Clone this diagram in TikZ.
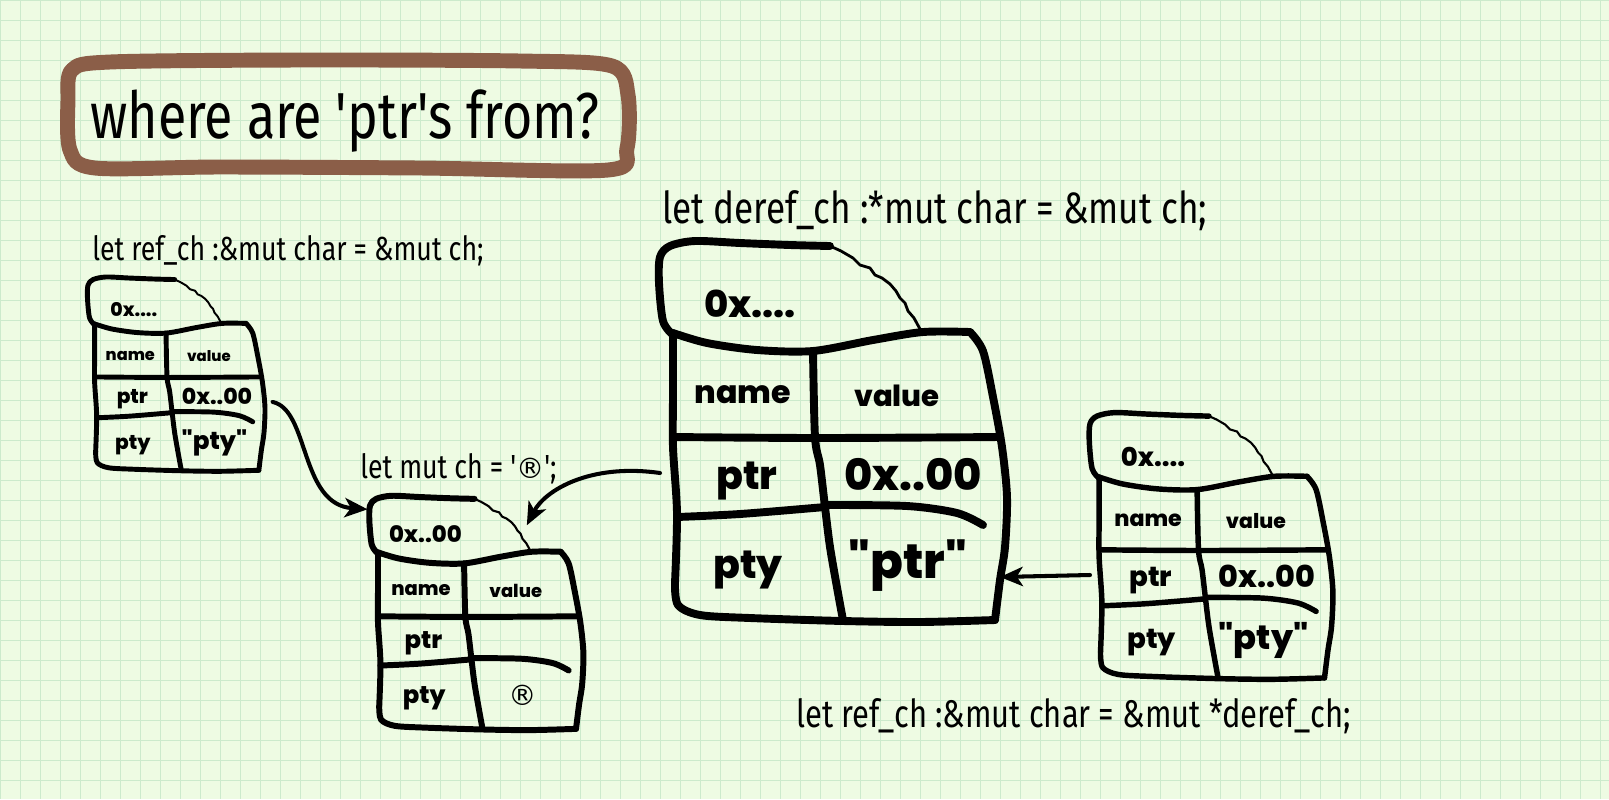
\documentclass[tikz,border=0pt]{standalone}
\usepackage{fontspec}
\setmainfont{Fira Sans}[FakeStretch=0.8, Ligatures=TeXOff]
\newfontfamily\cellfont{Poppins}[Ligatures=TeXOff, BoldFont={Poppins ExtraBold}]
\newfontfamily\regfont{DejaVu Sans}
\usetikzlibrary{arrows.meta}

\definecolor{paper}{RGB}{238,251,227}
\definecolor{paperline}{RGB}{204,234,204}
\definecolor{ringbrown}{RGB}{139,94,72}

\tikzset{
  cellrule/.style={line width=4.5pt, line cap=round, line join=round},
  celltear/.style={line width=1.6pt, line cap=round, line join=round},
  capfont/.style={font=\cellfont\bfseries\fontsize{21}{21}\selectfont, inner sep=0pt},
  headfont/.style={font=\cellfont\bfseries\fontsize{18}{18}\selectfont, inner sep=0pt},
  rowfont/.style={font=\cellfont\bfseries\fontsize{22.5}{22.5}\selectfont, inner sep=0pt},
  addrfont/.style={font=\cellfont\bfseries\fontsize{24.5}{24.5}\selectfont, inner sep=0pt},
  typfont/.style={font=\cellfont\bfseries\fontsize{27.5}{27.5}\selectfont, inner sep=0pt},
  codetext/.style={anchor=base west, inner sep=0pt},
  ptrarrow/.style={line width=2.3pt, line cap=round,
    -{Stealth[length=13pt, width=11pt, inset=3.5pt]}},
  % one memory cell, drawn in px of the big cell, y going down
  pics/memcell/.style n args={3}{code={
    % --- cap with the address ---
    \draw[cellrule] plot[smooth] coordinates {(13,92) (3,78) (-1,40) (0,14) (10,3) (35,-2) (80,0) (130,2) (170,3)};
    \draw[celltear] plot coordinates {(170,3) (181,8) (193,15) (200,22) (210,25) (215,32)
      (222,35) (230,41) (236,48) (240,55) (245,60) (248,68) (254,75) (260,86)};
    % --- table outline ---
    \draw[cellrule] plot[smooth] coordinates {(13,90) (47,100) (97,107) (153,108) (213,97) (263,89) (310,89)};
    \draw[cellrule] plot[smooth] coordinates {(310,89) (323,108) (333,154) (342,204) (347,254) (345,304) (340,337) (335,377)};
    \draw[cellrule] plot[smooth] coordinates {(335,377) (260,379) (183,378) (90,375) (40,372) (18,362) (15,340)};
    \draw[cellrule] plot[smooth] coordinates {(13,90) (13,150) (13,204) (17,270) (15,340)};
    % --- rows and column ---
    \draw[cellrule] plot[smooth] coordinates {(13,194) (160,195) (340,194)};
    \draw[cellrule] plot[smooth] coordinates {(17,274) (80,271) (165,264)};
    \draw[cellrule] plot[smooth] coordinates {(165,262) (247,263) (297,270) (323,282)};
    \draw[cellrule] plot[smooth] coordinates {(153,108) (155,194) (160,222) (165,264) (170,304) (178,350) (183,377)};
    % --- texts ---
    \node[capfont] (-addr) at (90,61) {#1};
    \node[headfont] (-name) at (83,152) {name};
    \node[headfont, scale=0.92] (-value) at (237,153) {value};
    \node[rowfont] (-ptr) at (87,238) {ptr};
    \node[addrfont] (-ptrval) at (253,232) {#2};
    \node[rowfont] (-pty) at (88,327) {pty};
    \node[typfont] (-ptyval) at (248,323) {#3};
    % --- ends for the pointers ---
    \coordinate (-east) at (362,243);
    \coordinate (-west) at (0,230);
    \coordinate (-ptyeast) at (340,334);
    \coordinate (-nw) at (-4,20);
    \coordinate (-cap) at (255,46);
  }},
}

\begin{document}
\begin{tikzpicture}[x=0.02cm, y=-0.02cm]
    % --- Paper with grid ---
    \useasboundingbox (0,0) rectangle (1609,799);
    \fill[paper] (0,0) rectangle (1609,799);
    \foreach \gx in {0,20,...,1600}
        \draw[paperline, line width=0.55pt] (\gx,0) -- (\gx,799);
    \foreach \gy in {0,20,...,780}
        \draw[paperline, line width=0.55pt] (0,\gy) -- (1609,\gy);

    % --- Title in its ring ---
    \node[codetext, font=\fontsize{37}{37}\selectfont] (title) at (90,138) {where are 'ptr's from?};
    \draw[ringbrown, line width=8.5pt, line join=round]
        plot[smooth cycle] coordinates {(72,70) (110,62) (300,60) (520,61) (612,66) (628,95)
        (627,148) (608,170) (420,168) (220,167) (95,168) (70,150) (68,100)};

    % --- Memory cells ---
    \pic[scale=0.51, transform shape, cellrule/.style={line width=2.8pt, line cap=round, line join=round},
        celltear/.style={line width=1.1pt}] (r1) at (88,278) {memcell={0x....}{0x..00}{"pty"}};
    \pic[scale=0.615, transform shape, cellrule/.style={line width=3.4pt, line cap=round, line join=round},
        celltear/.style={line width=1.2pt}] (ch) at (370,497) {memcell={0x..00}{}{\regfont\mdseries\fontsize{26}{26}\selectfont ®}};
    \pic (deref) at (660,243) {memcell={0x....}{0x..00}{"ptr"}};
    \pic[scale=0.70, transform shape, cellrule/.style={line width=3.1pt, line cap=round, line join=round},
        celltear/.style={line width=1.2pt}] (r2) at (1090,414) {memcell={0x....}{0x..00}{"pty"}};

    % --- Code lines ---
    \node[codetext, font=\fontsize{19}{19}\selectfont] (lblr1) at (92,260) {let ref\_ch :\&mut char = \&mut ch;};
    \node[codetext, font=\fontsize{19}{19}\selectfont] (lblch) at (360,478) {let mut ch = '{\regfont\fontsize{16}{16}\selectfont ®}';};
    \node[codetext, font=\fontsize{25}{25}\selectfont] (lblderef) at (662,223) {let deref\_ch :*mut char = \&mut ch;};
    \node[codetext, font=\fontsize{22}{22}\selectfont] (lblr2) at (796,727) {let ref\_ch :\&mut char = \&mut *deref\_ch;};

    % --- Pointers ---
    \draw[ptrarrow] (r1-east) .. controls +(37,8) and +(-68,-5) .. (ch-nw);
    \draw[ptrarrow] (deref-west) .. controls +(-70,-10) and +(18,-35) .. (ch-cap);
    \draw[ptrarrow] (r2-west) -- (deref-ptyeast);
\end{tikzpicture}
\end{document}
